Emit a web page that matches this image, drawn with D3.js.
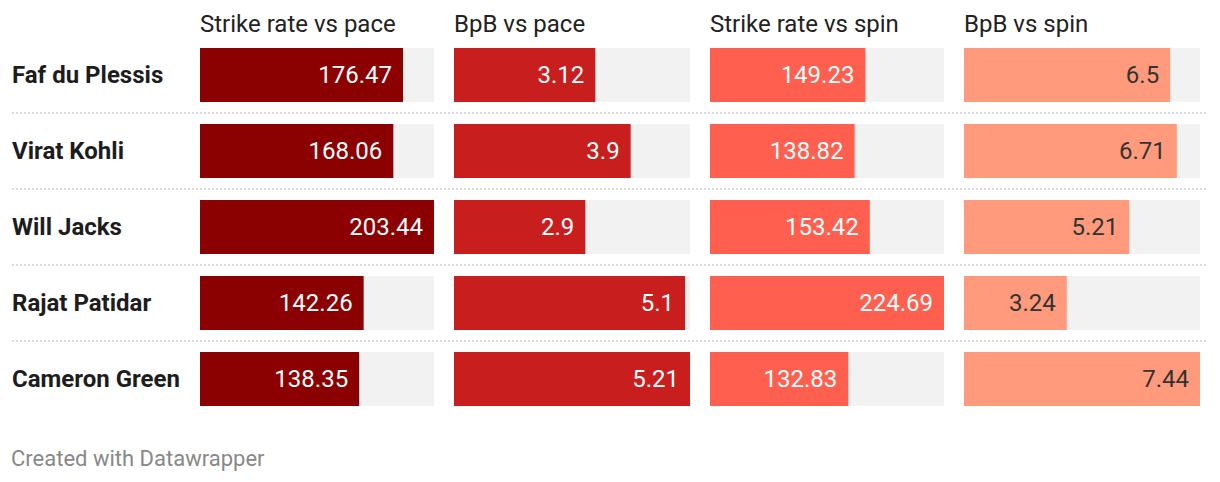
<!DOCTYPE html>
<html><head><meta charset="utf-8">
<script src="https://cdn.jsdelivr.net/npm/d3@7"></script>
<style>body{margin:0;background:#fff;}svg{display:block;font-family:Roboto,sans-serif;}</style>
</head><body>
<svg id="chart" width="1220" height="482"></svg>
<script>
const players = ["Faf du Plessis","Virat Kohli","Will Jacks","Rajat Patidar","Cameron Green"];
const columns = ["Strike rate vs pace","BpB vs pace","Strike rate vs spin","BpB vs spin"];
const srPace = [176.47,168.06,203.44,142.26,138.35];
const bpbPace = [3.12,3.9,2.9,5.1,5.21];
const srSpin = [149.23,138.82,153.42,224.69,132.83];
const bpbSpin = [6.5,6.71,5.21,3.24,7.44];
const series = [srPace,bpbPace,srSpin,bpbSpin];
const colors = ["#8b0000","#c81e1e","#ff5f4f","#ff9b7c"];
const textColors = ["#fff","#fff","#fff","#333"];

const svg = d3.select("#chart");
const colX = [[200,434],[454,690],[710,944],[964,1200]];
const yPos = d3.scalePoint().domain(players).range([48,48+76*4]);
const bh = 54;

// separators
players.slice(1).forEach(p=>{
  const yy = yPos(p) - 11;
  svg.append("line").attr("x1",12).attr("x2",1208).attr("y1",yy).attr("y2",yy)
    .attr("stroke","#cfcfcf").attr("stroke-width",1.5).attr("stroke-dasharray","2,2");
});

// row labels
svg.selectAll("text.name").data(players).join("text")
  .attr("x",12).attr("y",p=>yPos(p)+bh/2).attr("dy","0.35em")
  .attr("font-size",24).attr("font-weight",700).attr("fill","#1d1d1d").text(d=>d);

series.forEach((vals,i)=>{
  const [x0,x1] = colX[i];
  const x = d3.scaleLinear().domain([0,d3.max(vals)]).range([x0,x1]);
  svg.append("text").attr("x",x0).attr("y",32).attr("font-size",24).attr("fill","#222").text(columns[i]);
  const g = svg.append("g");
  g.selectAll("rect.bg").data(players).join("rect")
    .attr("x",x0).attr("y",p=>yPos(p)).attr("width",x1-x0).attr("height",bh).attr("fill","#f2f2f2");
  g.selectAll("rect.bar").data(vals).join("rect")
    .attr("x",x0).attr("y",(d,j)=>yPos(players[j])).attr("width",d=>x(d)-x0).attr("height",bh).attr("fill",colors[i]);
  g.selectAll("text.val").data(vals).join("text")
    .attr("x",d=>x(d)-11).attr("y",(d,j)=>yPos(players[j])+bh/2).attr("dy","0.35em")
    .attr("text-anchor","end").attr("font-size",24).attr("fill",textColors[i]).text(d=>d);
});

svg.append("text").attr("x",11).attr("y",466).attr("font-size",22).attr("fill","#888").text("Created with Datawrapper");
</script>
</body></html>
